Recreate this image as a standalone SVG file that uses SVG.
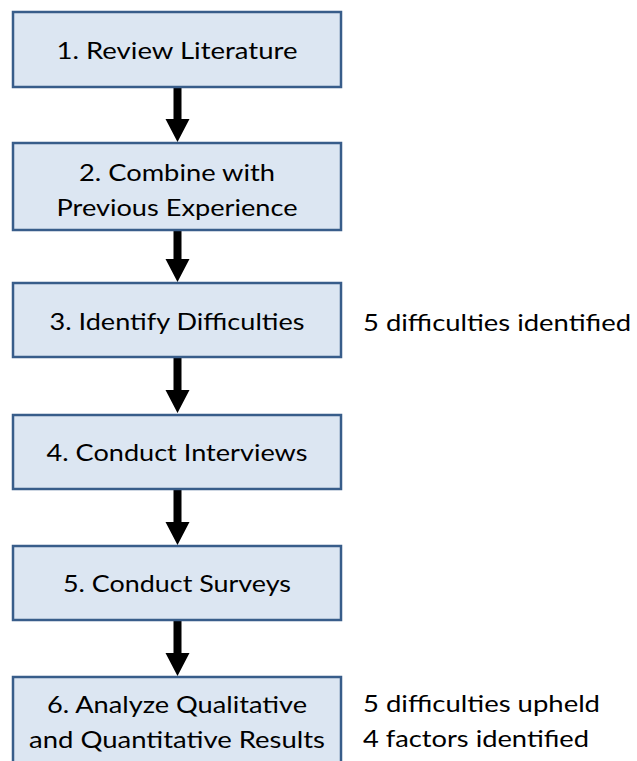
<svg xmlns="http://www.w3.org/2000/svg" width="637" height="761" viewBox="0 0 637 761">
<style>
.box{fill:#dce6f2;stroke:#385d8a;stroke-width:2.5}
.t{font-family:Lato,"Liberation Sans",sans-serif;font-size:24px;fill:#000;text-anchor:middle}
.n{font-family:Lato,"Liberation Sans",sans-serif;font-size:24px;fill:#000;text-anchor:start}
.arr{fill:#000}
</style>
<rect width="637" height="761" fill="#fff"/>
<g id="connectors">
<path class="arr" d="M173.5 87 H181.5 V119 H189.5 L177.5 142 L165.5 119 H173.5 Z"/>
<path class="arr" d="M173.5 231 H181.5 V259 H189.5 L177.5 282 L165.5 259 H173.5 Z"/>
<path class="arr" d="M173.5 357 H181.5 V390 H189.5 L177.5 413 L165.5 390 H173.5 Z"/>
<path class="arr" d="M173.5 489 H181.5 V522 H189.5 L177.5 545 L165.5 522 H173.5 Z"/>
<path class="arr" d="M173.5 620 H181.5 V653 H189.5 L177.5 676 L165.5 653 H173.5 Z"/>
</g>
<g id="n1">
<rect class="box" x="13" y="12" width="328" height="75"/>
<text class="t" x="177" y="59" textLength="241" lengthAdjust="spacingAndGlyphs">1. Review Literature</text>
</g>
<g id="n2">
<rect class="box" x="13" y="143" width="328" height="87"/>
<text class="t" x="177" y="181" textLength="196" lengthAdjust="spacingAndGlyphs">2. Combine with</text>
<text class="t" x="177" y="216" textLength="241" lengthAdjust="spacingAndGlyphs">Previous Experience</text>
</g>
<g id="n3">
<rect class="box" x="13" y="283" width="328" height="74"/>
<text class="t" x="177" y="330" textLength="255" lengthAdjust="spacingAndGlyphs">3. Identify Difficulties</text>
</g>
<g id="n4">
<rect class="box" x="13" y="415" width="328" height="74"/>
<text class="t" x="177" y="461" textLength="261" lengthAdjust="spacingAndGlyphs">4. Conduct Interviews</text>
</g>
<g id="n5">
<rect class="box" x="13" y="546" width="328" height="74"/>
<text class="t" x="177" y="592" textLength="228" lengthAdjust="spacingAndGlyphs">5. Conduct Surveys</text>
</g>
<g id="n6">
<rect class="box" x="13" y="677" width="328" height="110"/>
<text class="t" x="177" y="713" textLength="260" lengthAdjust="spacingAndGlyphs">6. Analyze Qualitative</text>
<text class="t" x="177" y="748" textLength="296" lengthAdjust="spacingAndGlyphs">and Quantitative Results</text>
</g>
<g id="note3">
<text class="n" x="363" y="331" textLength="268" lengthAdjust="spacingAndGlyphs">5 difficulties identified</text>
</g>
<g id="note6">
<text class="n" x="363" y="712" textLength="237" lengthAdjust="spacingAndGlyphs">5 difficulties upheld</text>
<text class="n" x="363" y="747" textLength="226" lengthAdjust="spacingAndGlyphs">4 factors identified</text>
</g>
</svg>
